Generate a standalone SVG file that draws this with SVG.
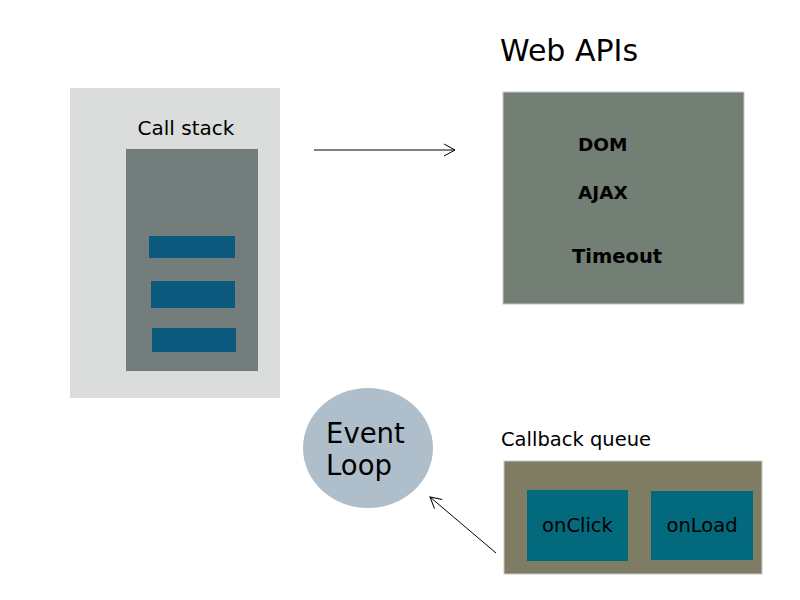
<svg xmlns="http://www.w3.org/2000/svg" width="800" height="600" viewBox="0 0 800 600">
<style>
text{font-family:"DejaVu Sans","Liberation Sans",sans-serif;fill:#000}
.bar{fill:#0b5a7d}
.cb{fill:#036a7d}
.conn{stroke:#000;stroke-width:1;fill:none}
</style>
<defs>
<marker id="ah" markerWidth="14" markerHeight="14" refX="12" refY="7" orient="auto" markerUnits="userSpaceOnUse">
<path d="M1,1 L12,7 L1,13" fill="none" stroke="#000" stroke-width="1"/>
</marker>
</defs>
<rect width="800" height="600" fill="#fff"/>
<g id="callstack">
<rect x="70" y="88" width="210" height="310" fill="#dbdddc"/>
<text x="186" y="135" font-size="20" text-anchor="middle">Call stack</text>
<rect x="126" y="149" width="132" height="222" fill="#737d7c"/>
<rect class="bar" x="149" y="236" width="86" height="22"/>
<rect class="bar" x="151" y="281" width="84" height="27"/>
<rect class="bar" x="152" y="328" width="84" height="24"/>
</g>
<g id="webapis">
<text x="500" y="61" font-size="30">Web APIs</text>
<rect x="503" y="92" width="241" height="212" fill="#737e75" stroke="#c8c8c8" stroke-width="1"/>
<text x="578" y="151" font-size="18.5" font-weight="bold">DOM</text>
<text x="578" y="199" font-size="18.5" font-weight="bold">AJAX</text>
<text x="572" y="263" font-size="19.5" font-weight="bold">Timeout</text>
</g>
<g id="eventloop">
<ellipse cx="368" cy="448" rx="65" ry="60" fill="#aebfcb"/>
<text font-size="27.5"><tspan x="326" y="443">Event</tspan><tspan x="326" y="475">Loop</tspan></text>
</g>
<g id="callbackqueue">
<text x="501" y="446" font-size="19.5">Callback queue</text>
<rect x="504" y="461" width="258" height="113" fill="#7f7c64" stroke="#c8c8c8" stroke-width="1"/>
<rect class="cb" x="527" y="490" width="101" height="71"/>
<text x="577.5" y="532" font-size="19.5" text-anchor="middle">onClick</text>
<rect class="cb" x="651" y="491" width="102" height="69"/>
<text x="702" y="532" font-size="19.5" text-anchor="middle">onLoad</text>
</g>
<g id="connectors">
<line class="conn" x1="314" y1="150" x2="455" y2="150" marker-end="url(#ah)"/>
<line class="conn" x1="496" y1="553" x2="430" y2="497" marker-end="url(#ah)"/>
</g>
</svg>
